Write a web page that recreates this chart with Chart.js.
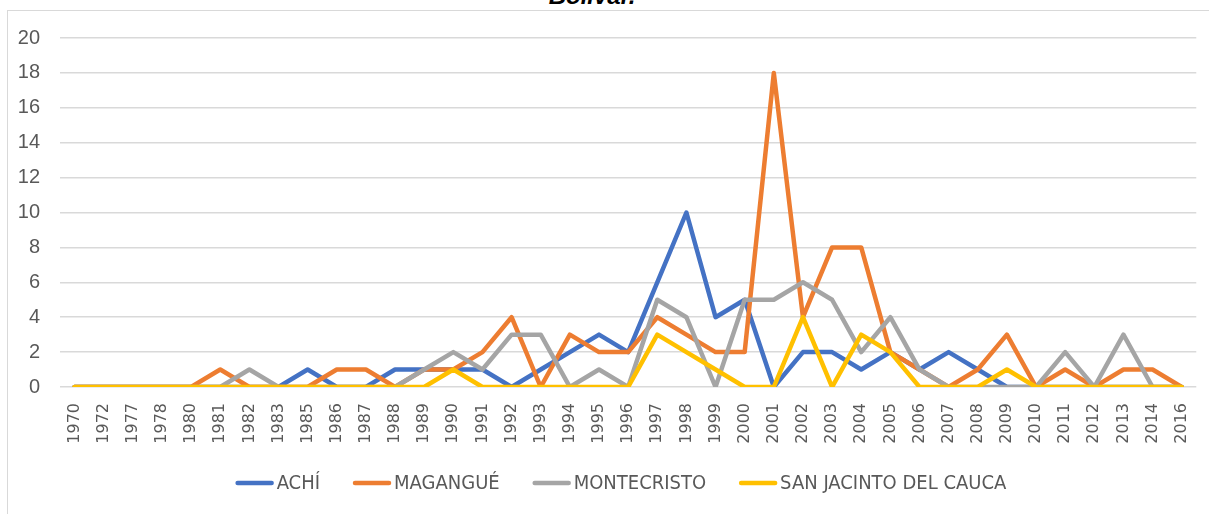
<!DOCTYPE html>
<html>
<head>
<meta charset="utf-8">
<script src="https://cdn.jsdelivr.net/npm/chart.js@4/dist/chart.umd.min.js"></script>
<style>
  html, body { margin: 0; padding: 0; background: #fff; overflow: hidden; }
  #wrap { position: relative; width: 1209px; height: 514px; }
  #frame { position: absolute; left: 7px; top: 10px; width: 1300px; height: 600px;
           border-left: 1px solid #d9d9d9; border-top: 1px solid #d9d9d9; }
  #title { position: absolute; left: 0; top: -16px; width: 1184px; text-align: center;
           font: italic bold 24px "Liberation Sans", Arial, sans-serif; line-height: 24px; color: #000; }
  canvas { position: absolute; left: 0; top: 0; }
</style>
</head>
<body>
<div id="wrap">
  <div id="frame"></div>
  <div id="title">Bolívar.</div>
  <canvas id="chart" width="1209" height="514"></canvas>
</div>
<script>
// categories (years)
const years = ['1970','1972','1977','1978','1980','1981','1982','1983','1985','1986','1987','1988','1989',
  '1990','1991','1992','1993','1994','1995','1996','1997','1998','1999','2000','2001','2002','2003','2004',
  '2005','2006','2007','2008','2009','2010','2011','2012','2013','2014','2016'];

// series values
const achi = [0,0,0,0,0,0,0,0,1,0,0,1,1,1,1,0,1,2,3,2,6,10,4,5,0,2,2,1,2,1,2,1,0,0,0,0,0,0,0];
const magangue = [0,0,0,0,0,1,0,0,0,1,1,0,1,1,2,4,0,3,2,2,4,3,2,2,18,4,8,8,2,1,0,1,3,0,1,0,1,1,0];
const montecristo = [0,0,0,0,0,0,1,0,0,0,0,0,1,2,1,3,3,0,1,0,5,4,0,5,5,6,5,2,4,1,0,0,0,0,2,0,3,0,0];
const sanJacinto = [0,0,0,0,0,0,0,0,0,0,0,0,0,1,0,0,0,0,0,0,3,2,1,0,0,4,0,3,2,0,0,0,1,0,0,0,0,0,0];

const yTicks = [0, 20, 2]; // min, max, step

const textGray = '#595959';
const narrow = '"Liberation Sans Narrow", "DejaVu Sans Condensed", "Liberation Sans", sans-serif';

// legend drawn by hand so swatch/text spacing matches the original
const lineLegend = {
  id: 'lineLegend',
  afterDraw(chart) {
    const ctx = chart.ctx;
    const sets = chart.data.datasets;
    ctx.save();
    ctx.font = '20px ' + narrow;
    const swatch = 38, gapIn = 3, gapOut = 33;
    const widths = sets.map(d => ctx.measureText(d.label).width);
    let total = gapOut * (sets.length - 1);
    widths.forEach(w => { total += swatch + gapIn + w; });
    let x = 621 - total / 2;
    const y = 483;
    sets.forEach((d, i) => {
      ctx.strokeStyle = d.borderColor;
      ctx.lineWidth = 4.5;
      ctx.lineCap = 'round';
      ctx.beginPath();
      ctx.moveTo(x + 2, y);
      ctx.lineTo(x + swatch - 2, y);
      ctx.stroke();
      ctx.fillStyle = textGray;
      ctx.textBaseline = 'middle';
      ctx.textAlign = 'left';
      ctx.fillText(d.label, x + swatch + gapIn, y + 1);
      x += swatch + gapIn + widths[i] + gapOut;
    });
    ctx.restore();
  }
};

function series(label, data, color, order) {
  return {
    label, data, order,
    borderColor: color,
    backgroundColor: color,
    borderWidth: 4.5,
    pointRadius: 0,
    pointHoverRadius: 0,
    tension: 0,
    borderJoinStyle: 'round',
    borderCapStyle: 'round',
    fill: false
  };
}

new Chart(document.getElementById('chart').getContext('2d'), {
  type: 'line',
  data: {
    labels: years,
    datasets: [
      series('ACHÍ', achi, '#4472C4', 3),
      series('MAGANGUÉ', magangue, '#ED7D31', 2),
      series('MONTECRISTO', montecristo, '#A5A5A5', 1),
      series('SAN JACINTO DEL CAUCA', sanJacinto, '#FFC000', 0)
    ]
  },
  options: {
    responsive: false,
    animation: false,
    layout: { padding: { top: 38, left: 0, right: 7, bottom: 67 } },
    plugins: {
      legend: { display: false },
      tooltip: { enabled: false },
      title: { display: false }
    },
    scales: {
      x: {
        offset: true,
        grid: { display: false },
        border: { display: false },
        afterFit: s => { s.height = 60; },
        ticks: {
          autoSkip: false,
          minRotation: 90,
          maxRotation: 90,
          padding: 8,
          color: textGray,
          font: { family: '"DejaVu Sans", sans-serif', size: 16 }
        }
      },
      y: {
        min: yTicks[0],
        max: yTicks[1],
        afterFit: s => { s.width = 60; },
        border: { display: false },
        grid: { color: '#d9d9d9', lineWidth: 1.5, drawTicks: false },
        ticks: {
          stepSize: yTicks[2],
          padding: 20,
          color: textGray,
          font: { family: '"Liberation Sans", sans-serif', size: 20 }
        }
      }
    }
  },
  plugins: [lineLegend]
});
</script>
</body>
</html>
